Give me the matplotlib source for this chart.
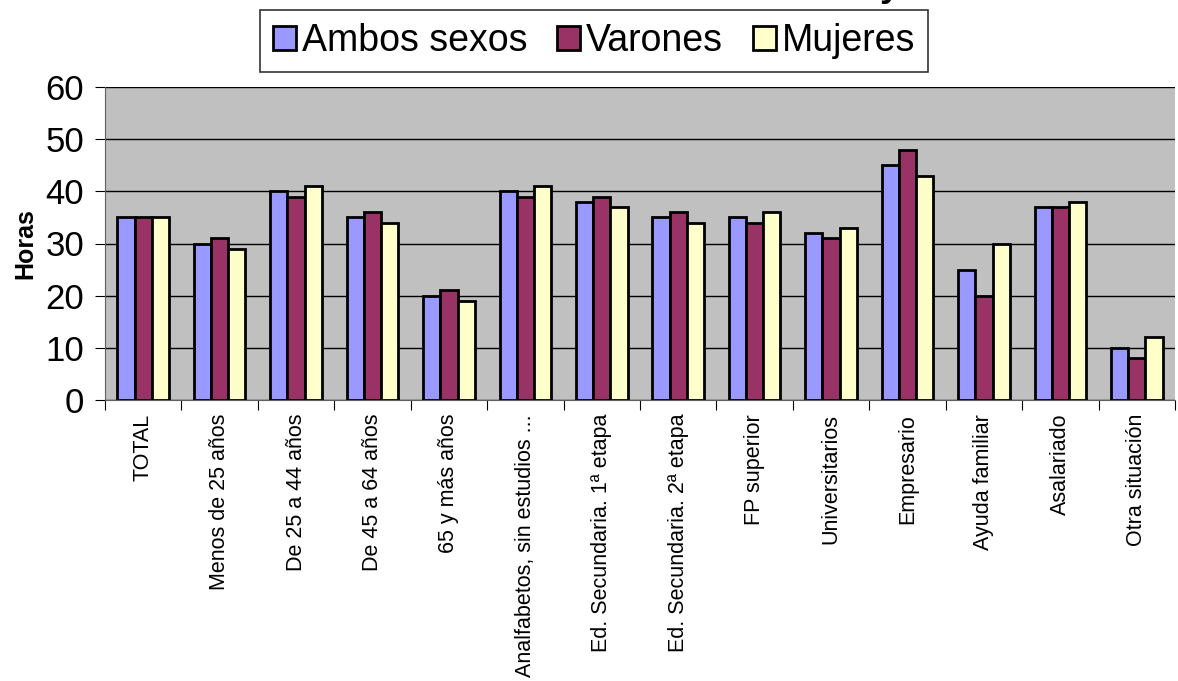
import numpy as np
import matplotlib.pyplot as plt

plt.rcParams['font.family'] = ['Liberation Sans', 'DejaVu Sans']

categorias = ["TOTAL", "Menos de 25 años", "De 25 a 44 años", "De 45 a 64 años",
              "65 y más años", "Analfabetos, sin estudios ...", "Ed. Secundaria. 1ª etapa",
              "Ed. Secundaria. 2ª etapa", "FP superior", "Universitarios", "Empresario",
              "Ayuda familiar", "Asalariado", "Otra situación"]
ambos = [35, 30, 40, 35, 20, 40, 38, 35, 35, 32, 45, 25, 37, 10]
varones = [35, 31, 39, 36, 21, 39, 39, 36, 34, 31, 48, 20, 37, 8]
mujeres = [35, 29, 41, 34, 19, 41, 37, 34, 36, 33, 43, 30, 38, 12]
series = ["Ambos sexos", "Varones", "Mujeres"]
colores = ["#9999FF", "#993366", "#FFFFCC"]

fig = plt.figure(figsize=(11.78, 6.81), dpi=100)
ax = fig.add_axes([105 / 1178, 1 - 400 / 681, 1070 / 1178, 313 / 681])
ax.set_facecolor("#C0C0C0")

x = np.arange(len(categorias))
w = 0.225
for i, (vals, nombre, col) in enumerate(zip([ambos, varones, mujeres], series, colores)):
    ax.bar(x + (i - 1) * w, vals, w, color=col, edgecolor="black", linewidth=2,
           label=nombre, zorder=3)

ax.set_xlim(-0.5, len(categorias) - 0.5)
ax.set_ylim(0, 60)
ax.set_yticks(range(0, 61, 10))
ax.yaxis.grid(True, color="black", linewidth=1, zorder=0)
ax.tick_params(axis="y", labelsize=25, length=7, direction="out", pad=8)

# bordes de categoría como ticks mayores, nombres en los menores
ax.set_xticks(np.arange(len(categorias) + 1) - 0.5)
ax.set_xticklabels([])
ax.set_xticks(x, minor=True)
ax.set_xticklabels(categorias, minor=True, rotation=90, fontsize=15.5, va="top")
ax.tick_params(axis="x", which="major", length=7, direction="out")
ax.tick_params(axis="x", which="minor", length=0, pad=10)

for s in ["top", "right"]:
    ax.spines[s].set_visible(False)
ax.spines["left"].set_color("#606060")
ax.spines["bottom"].set_color("#606060")

ax.set_ylabel("Horas", fontsize=18, fontweight="bold", labelpad=6)

leg = fig.legend(loc="center", bbox_to_anchor=(594 / 1178, 1 - 41 / 681), ncol=3,
                 fontsize=27, frameon=True, fancybox=False, edgecolor="black",
                 handlelength=0.62, handleheight=0.62, handletextpad=0.15,
                 columnspacing=0.8, borderpad=0.35, borderaxespad=0)
leg.get_frame().set_linewidth(1.2)

fig.text(880 / 1178, 1 + 4 / 681, "y", fontsize=26, fontweight="bold", va="baseline")

fig.savefig("out.png", dpi=100)
